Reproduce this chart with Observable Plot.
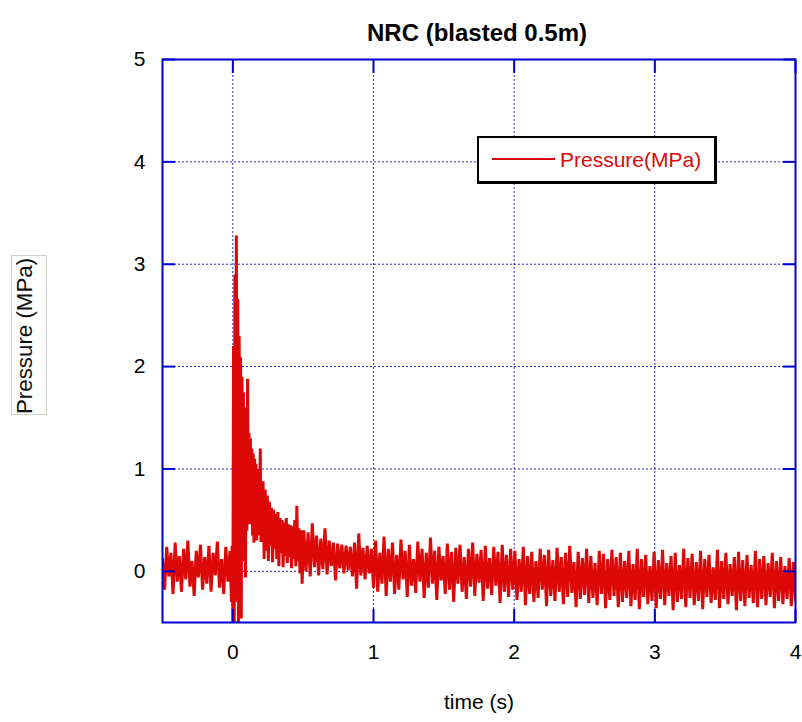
<!DOCTYPE html>
<html><head><meta charset="utf-8">
<script src="https://cdn.jsdelivr.net/npm/d3@7"></script>
<script src="https://cdn.jsdelivr.net/npm/@observablehq/plot@0.6"></script>
<style>
html,body{margin:0;padding:0;background:#fff;}
#wrap{position:relative;width:802px;height:722px;font-family:"Liberation Sans",Arial,sans-serif;}
#ylab{position:absolute;left:11px;top:255px;width:36px;height:160px;box-sizing:border-box;border:1px solid #cdcdcd;overflow:hidden;background:#fff;}
#ylab span{position:absolute;left:2px;top:158px;white-space:nowrap;font-size:22.3px;line-height:22px;color:#111;transform:rotate(-90deg);transform-origin:0 0;}
#legend{position:absolute;left:477px;top:136px;width:240px;height:48px;box-sizing:border-box;border:2px solid #000;border-right-width:3px;border-bottom-width:3px;background:#fff;}
#legend .sw{position:absolute;left:13px;top:20px;width:63px;height:0;border-top:2px solid #dd0808;}
#legend .lb{position:absolute;left:81px;top:11px;font-size:21px;line-height:22px;color:#dd0808;white-space:nowrap;}
</style></head>
<body>
<div id="wrap">
  <div id="chart"></div>
  <div id="ylab"><span>Pressure (MPa)</span></div>
  <div id="legend"><div class="sw"></div><div class="lb">Pressure(MPa)</div></div>
</div>
<script>
const xTicks = [0, 1, 2, 3, 4];
const yTicks = [0, 1, 2, 3, 4, 5];
const xGrid = [0, 1, 2, 3];
const yGrid = [0, 1, 2, 3, 4];

// Recorded pressure (MPa), in four sampled stretches: start time (s), sample step (s), values
const preStart = -0.5, preStep = 0.015;
const prePressure = [
  0.12, -0.18, 0.24, -0.05, 0.18, -0.22, 0.28, -0.10, 0.15, -0.20, 0.22, -0.08, 0.30, -0.15, 0.10, -0.24,
  0.20, -0.06, 0.26, -0.18, 0.14, -0.12, 0.25, -0.20, 0.18, -0.04, 0.29, -0.16, 0.12, -0.22, 0.24, -0.10, 0.20
];
const spikeStart = -0.01, spikeStep = 0.005;
const spikePressure = [
  -0.30, 0.25, -0.50, 2.20, -0.50, 2.90, -0.30, 3.28, 0.60, 2.66, -0.50, 2.30, 0.20, 2.09, -0.46, 1.90,
  0.30, 1.75, 0.10, 1.60, -0.06, 1.50, 0.40, 1.88, 0.50, 1.35, 0.46, 1.30, 0.50, 1.20, 0.35, 1.15,
  0.28, 1.10, 0.45, 1.05, 0.30, 1.00, 0.35, 0.95, 0.40, 1.20, 0.30
];
const decayStart = 0.2075, decayStep = 0.0075;
const decayPressure = [
  0.30, 0.88, 0.12, 0.80, 0.20, 0.74, 0.10, 0.68, 0.25, 0.62, 0.09, 0.60, 0.22, 0.56, 0.12, 0.58,
  0.05, 0.52, 0.18, 0.50, 0.04, 0.48, 0.15, 0.52, 0.08, 0.46, 0.14, 0.45, 0.03, 0.44, 0.12, 0.50,
  0.05, 0.64, 0.10, 0.42, -0.02, 0.40, -0.12
];
const tailStart = 0.505, tailStep = 0.015;
const tailPressure = [
  0.40, 0.00, 0.38, -0.05, 0.47, 0.04, 0.35, -0.04, 0.32, 0.02, 0.42, -0.03, 0.30, 0.05, 0.28, -0.09,
  0.27, 0.03, 0.26, -0.02, 0.25, 0.01, 0.24, -0.05, 0.28, -0.17, 0.37, -0.04, 0.23, -0.08, 0.25, -0.02,
  0.22, -0.16,
  0.30, -0.20, 0.18, -0.12, 0.34, -0.24, 0.22, -0.10, 0.28, -0.22, 0.16, -0.18, 0.31, -0.08, 0.20, -0.25,
  0.26, -0.14, 0.12, -0.21, 0.29, -0.10, 0.22, -0.26, 0.18, -0.16, 0.33, -0.12, 0.20, -0.28, 0.24, -0.09,
  0.15, -0.22, 0.27, -0.18, 0.19, -0.30, 0.23, -0.12, 0.26, -0.20, 0.14, -0.27, 0.22, -0.15, 0.28, -0.24,
  0.17, -0.11, 0.21, -0.29, 0.25, -0.17, 0.13, -0.23, 0.24, -0.14, 0.19, -0.31, 0.26, -0.20, 0.16, -0.25,
  0.22, -0.18,
  0.20, -0.28, 0.12, -0.20, 0.24, -0.33, 0.15, -0.22, 0.19, -0.30, 0.10, -0.26, 0.22, -0.18, 0.16, -0.34,
  0.21, -0.24, 0.11, -0.29, 0.23, -0.20, 0.14, -0.32, 0.18, -0.25, 0.25, -0.21, 0.09, -0.35, 0.19, -0.27,
  0.13, -0.23, 0.22, -0.31, 0.15, -0.26, 0.08, -0.33, 0.20, -0.22, 0.17, -0.36, 0.12, -0.28, 0.21, -0.24,
  0.14, -0.35,
  0.18, -0.30, 0.10, -0.26, 0.20, -0.34, 0.07, -0.28, 0.22, -0.37, 0.12, -0.25, 0.16, -0.32, 0.05, -0.29,
  0.19, -0.36, 0.11, -0.27, 0.21, -0.33, 0.08, -0.24, 0.15, -0.38, 0.18, -0.30, 0.06, -0.27, 0.22, -0.35,
  0.13, -0.26, 0.17, -0.33, 0.09, -0.29, 0.20, -0.37, 0.12, -0.25, 0.16, -0.31, 0.04, -0.28, 0.21, -0.36,
  0.10, -0.27, 0.18, -0.32, 0.07, -0.24, 0.14, -0.38, 0.19, -0.29, 0.11, -0.34, 0.16, -0.26, 0.06, -0.31,
  0.20, -0.35, 0.12, -0.27, 0.15, -0.33, 0.08, -0.25, 0.18, -0.36, 0.10, -0.29, 0.14, -0.32, 0.05, -0.27,
  0.13, -0.34, 0.09, -0.28
];
const stretch = (start, step, values) => values.map((p, i) => ({t: start + i * step, p}));
const rows = [
  ...stretch(preStart, preStep, prePressure),
  ...stretch(spikeStart, spikeStep, spikePressure),
  ...stretch(decayStart, decayStep, decayPressure),
  ...stretch(tailStart, tailStep, tailPressure)
];
const blue = "#0000cc";
const red = "#dd0808";
const chart = Plot.plot({
  width: 802,
  height: 722,
  marginLeft: 162,
  marginRight: 7,
  marginTop: 59,
  marginBottom: 100,
  x: {domain: [-0.5, 4], label: null},
  y: {domain: [-0.5, 5], label: null},
  style: {fontFamily: '"Liberation Sans", Arial, sans-serif', fontSize: "20px", background: "#fff", color: "#000", overflow: "visible"},
  marks: [
    Plot.gridX(xGrid, {stroke: blue, strokeOpacity: 0.85, strokeDasharray: "2,2", strokeWidth: 1}),
    Plot.gridY(yGrid, {stroke: blue, strokeOpacity: 0.85, strokeDasharray: "2,2", strokeWidth: 1}),
    Plot.line(rows, {x: "t", y: "p", stroke: red, strokeWidth: 3, strokeLinejoin: "miter", strokeMiterlimit: 1.5, clip: true}),
    Plot.frame({stroke: blue, strokeWidth: 2}),
    Plot.axisY(yTicks, {anchor: "left", tickSize: -13, tickFormat: () => "", stroke: blue, strokeWidth: 2, label: null}),
    Plot.axisY(yTicks, {anchor: "right", tickSize: -13, tickFormat: () => "", stroke: blue, strokeWidth: 2, label: null}),
    Plot.axisX(xTicks, {anchor: "bottom", tickSize: -13, tickFormat: () => "", stroke: blue, strokeWidth: 2, label: null}),
    Plot.axisX(xTicks, {anchor: "top", tickSize: -13, tickFormat: () => "", stroke: blue, strokeWidth: 2, label: null}),
    Plot.axisY(yTicks, {anchor: "left", tickSize: 0, tickPadding: 17, tickFormat: d => String(d), fontSize: 21, label: null}),
    Plot.axisX(xTicks, {anchor: "bottom", tickSize: 0, tickPadding: 22, tickFormat: d => String(d), fontSize: 21, label: null}),
    Plot.text(["NRC (blasted 0.5m)"], {frameAnchor: "top", dy: -36, dx: -2, fontWeight: "bold", fontSize: 24, letterSpacing: "0.6px"}),
    Plot.text(["time (s)"], {frameAnchor: "bottom", dy: 86, fontSize: 21})
  ]
});
document.getElementById("chart").appendChild(chart);
</script>
</body></html>
